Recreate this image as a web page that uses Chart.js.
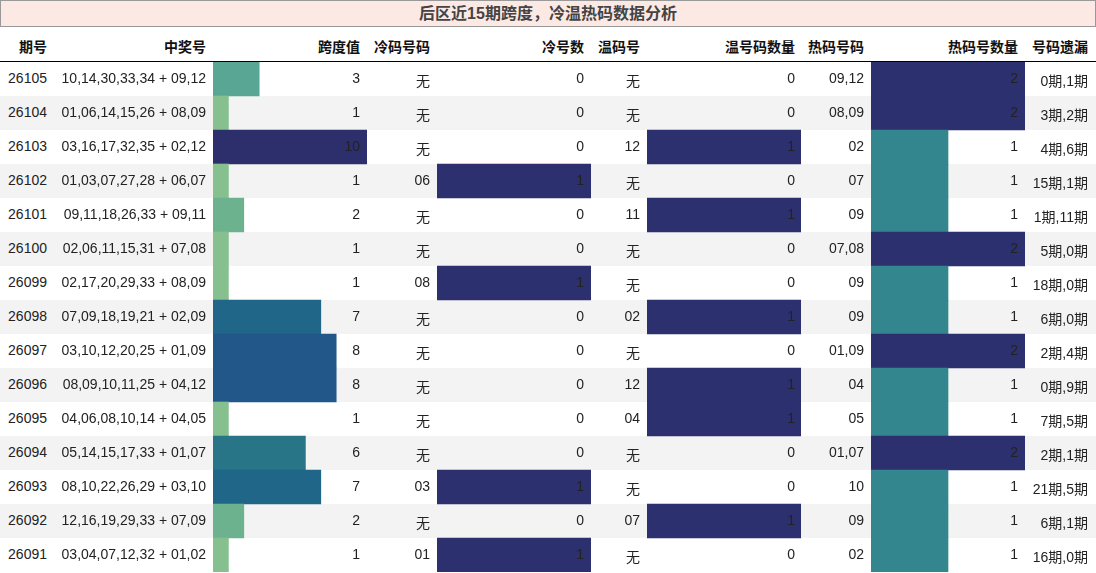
<!DOCTYPE html>
<html><head><meta charset="utf-8">
<script src="https://cdn.jsdelivr.net/npm/chart.js@4"></script>
<style>
body{margin:0;width:1096px;height:573px;position:relative;font-family:"Liberation Sans",Arial,"Noto Sans CJK SC",sans-serif;background:#fff;overflow:hidden}
.a{position:absolute}
.t{position:absolute;font-size:14px;color:#222;text-align:right;white-space:nowrap;z-index:3}
.h{font-weight:bold;color:#111}
canvas{position:absolute;z-index:2;background:transparent}
</style></head><body>
<script>
const periods=["26105","26104","26103","26102","26101","26100","26099","26098","26097","26096","26095","26094","26093","26092","26091"];
const winning=["10,14,30,33,34 + 09,12","01,06,14,15,26 + 08,09","03,16,17,32,35 + 02,12","01,03,07,27,28 + 06,07","09,11,18,26,33 + 09,11","02,06,11,15,31 + 07,08","02,17,20,29,33 + 08,09","07,09,18,19,21 + 02,09","03,10,12,20,25 + 01,09","08,09,10,11,25 + 04,12","04,06,08,10,14 + 04,05","05,14,15,17,33 + 01,07","08,10,22,26,29 + 03,10","12,16,19,29,33 + 07,09","03,04,07,12,32 + 01,02"];
const span=[3,1,10,1,2,1,1,7,8,8,1,6,7,2,1];
const coldCodes=["无","无","无","06","无","无","08","无","无","无","无","无","03","无","01"];
const coldCount=[0,0,0,1,0,0,1,0,0,0,0,0,1,0,1];
const warmCodes=["无","无","12","无","11","无","无","02","无","12","04","无","无","07","无"];
const warmCount=[0,0,1,0,1,0,0,1,0,1,1,0,0,1,0];
const hotCodes=["09,12","08,09","02","07","09","07,08","09","09","01,09","04","05","01,07","10","09","02"];
const hotCount=[2,2,1,1,1,2,1,1,2,1,1,2,1,1,1];
const missing=["0期,1期","3期,2期","4期,6期","15期,1期","1期,11期","5期,0期","18期,0期","6期,0期","2期,4期","0期,9期","7期,5期","2期,1期","21期,5期","6期,1期","16期,0期"];
const headers=["期号","中奖号","跨度值","冷码号码","冷号数","温码号","温号码数量","热码号码","热码号数量","号码遗漏"];
const title="后区近15期跨度，冷温热码数据分析";

const rights=[47,206,360,430,584,640,795,864,1018,1088];
const cols=[periods,winning,span,coldCodes,coldCount,warmCodes,warmCount,hotCodes,hotCount,missing];
const TOP=62,RH=34;
function el(cls,css,txt){const d=document.createElement('div');d.className=cls;d.style.cssText=css;if(txt!==undefined)d.textContent=txt;document.body.appendChild(d);return d;}
el('a','left:0;top:0;width:1094px;height:25px;background:#fde9e4;border:1px solid #999;text-align:center;font-weight:bold;font-size:16px;line-height:25px;color:#444;z-index:3',title);
el('a','left:0;top:61px;width:1096px;height:1px;background:#000;z-index:3');
for(let i=0;i<15;i++){ if(i%2) el('a',`left:0;top:${TOP+i*RH}px;width:1096px;height:${RH}px;background:#f3f3f3;z-index:0`); }
headers.forEach((h,c)=>el('t h',`right:${1096-rights[c]}px;top:36px`,h));
for(let i=0;i<15;i++) cols.forEach((col,c)=>el('t',`right:${1096-rights[c]}px;top:${TOP+i*RH+8}px`,String(col[i])));

const spanColors={1:'#86c08e',2:'#6cb28f',3:'#5aa694',6:'#277586',7:'#1f6688',8:'#22578a',10:'#2d2f6d'};
function bars(left,data,max,colorFn){
  const cv=document.createElement('canvas');cv.width=154;cv.height=15*RH;
  cv.style.left=left+'px';cv.style.top=TOP+'px';document.body.appendChild(cv);
  const shown=data.map(v=>v===0?null:v);
  new Chart(cv,{type:'bar',data:{labels:periods,datasets:[{data:shown,backgroundColor:data.map(colorFn),borderWidth:0,barPercentage:1,categoryPercentage:1}]},
    options:{indexAxis:'y',responsive:false,animation:false,devicePixelRatio:1,layout:{padding:0},
      plugins:{legend:{display:false},tooltip:{enabled:false}},
      scales:{x:{display:false,min:0,max},y:{display:false}}}});
}
bars(213,span,10,v=>spanColors[v]||'#3a8a8e');
bars(437,coldCount,1,()=>'#2d306e');
bars(647,warmCount,1,()=>'#2d306e');
bars(871,hotCount,2,v=>v>=2?'#2d306e':'#33868e');
</script>
</body></html>
